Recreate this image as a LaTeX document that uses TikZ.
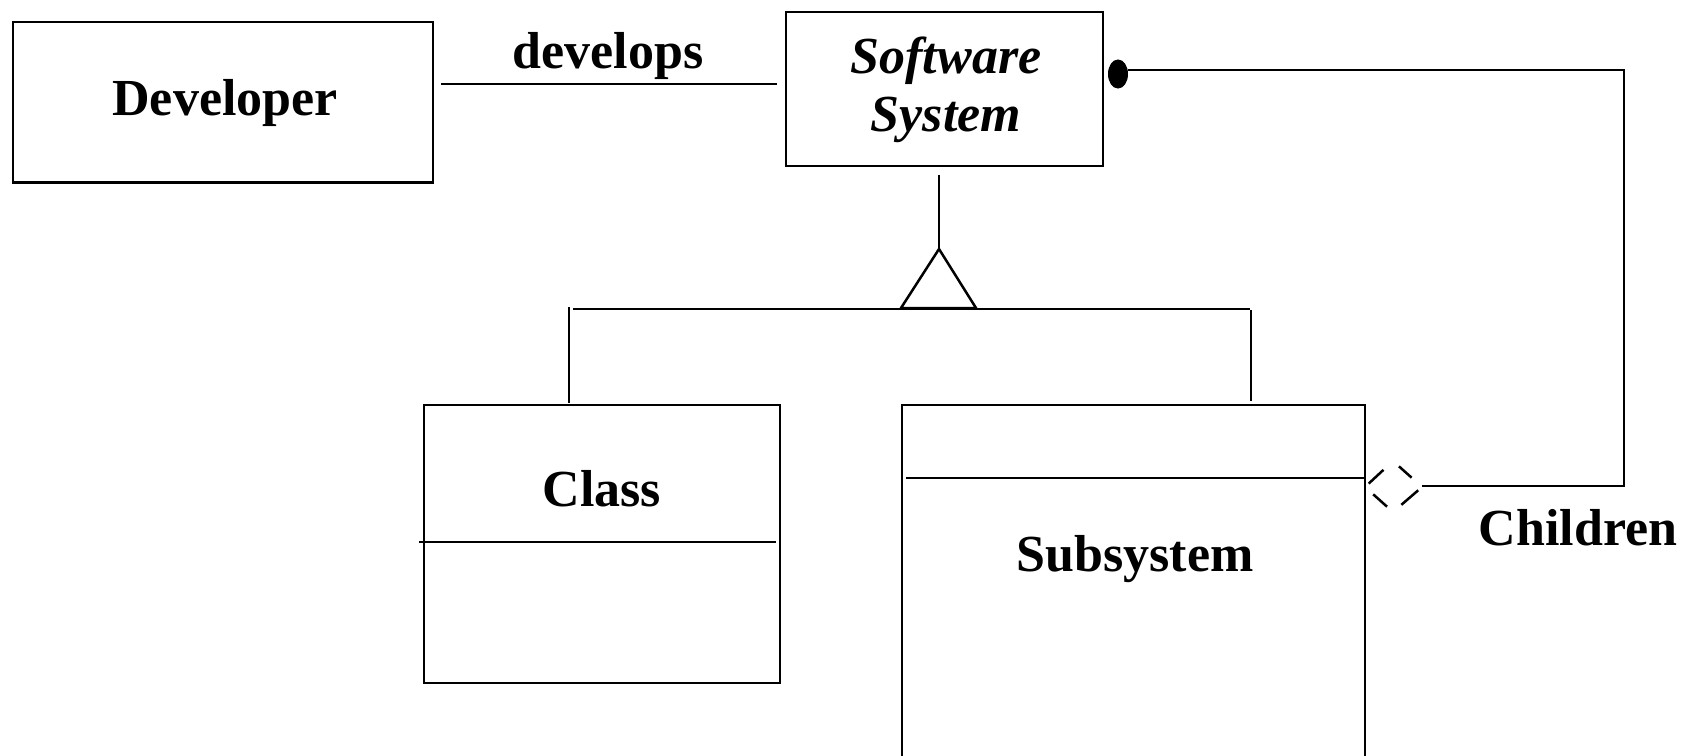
\documentclass[tikz,border=0pt]{standalone}
\usepackage{fontspec}
\setmainfont{Liberation Serif}
\usetikzlibrary{calc,shapes.geometric}
\begin{document}
\begin{tikzpicture}[x=1pt,y=-1pt,line width=2.5pt,
  box/.style={draw,line width=2.5pt,inner sep=0pt},
  lbl/.style={anchor=base,inner sep=0pt,font=\fontsize{52}{58}\selectfont\bfseries},
  ilbl/.style={anchor=base,inner sep=0pt,font=\fontsize{52}{58}\selectfont\bfseries\itshape}]
\clip (0,0) rectangle (1686,755);

% class boxes
\node[box,minimum width=420pt,minimum height=160.5pt] (dev) at (223,102) {};
\node[box,minimum width=317pt,minimum height=154pt] (sws) at (944.5,89) {};
\node[box,minimum width=356pt,minimum height=278pt] (cls) at (602,544) {};
\node[box,minimum width=463pt,minimum height=400pt] (sub) at (1133.5,605) {};

% class names
\node[lbl] (devname) at (225,115) {Developer};
\node[ilbl] (swsname1) at (946,73.5) {Software};
\node[ilbl] (swsname2) at (946,131.5) {System};
\node[lbl] (clsname) at (602,506) {Class};
\node[lbl] (subname) at (1135,571) {Subsystem};

% compartment dividers
\draw ($(cls.west)+(-4,-2)$) -- ($(cls.east)+(-5,-2)$);
\coordinate (sdl) at (906,478);
\draw (sdl) -- (sub.east |- sdl);

% association
\coordinate (d1) at ($(dev.east)+(7,-18)$);
\coordinate (d2) at ($(sws.west)+(-8,-5)$);
\draw (d1) -- (d2);
\node[lbl] (develops) at (608,68) {develops};

% generalization
\coordinate (gtop) at ($(sws.south)+(-5.5,8)$);
\coordinate (gapex) at (939,249);
\coordinate (gbl) at (901,308);
\coordinate (gbr) at (976,308);
\draw (gtop) -- (gapex);
\draw[line join=miter] (gapex) -- (gbr) -- (gbl) -- cycle;
\coordinate (hl) at (573,309);
\coordinate (hr) at (1250,309);
\draw (hl) -- (hr);
\coordinate (cl) at (569,307);
\coordinate (cr) at (1251,310);
\draw (cl) -- ($(cls.north -| cl)+(0,-1)$);
\draw (cr) -- ($(sub.north -| cr)+(0,-3)$);

% aggregation: filled end at the whole, dashed diamond at the part
\node[draw,fill=black,ellipse,minimum width=19pt,minimum height=28pt,inner sep=0pt,line width=1pt] (dot) at (1118,74) {};
\coordinate (c1) at (1624,70);
\coordinate (c2) at (1624,486);
\coordinate (c3) at (1422,486);
\draw[line join=miter] (dot.east |- c1) -- (c1) -- (c2) -- (c3);
\coordinate (dl) at (1365,487);
\coordinate (dt) at (1393,461);
\coordinate (dr) at (1422,487);
\coordinate (db) at (1393,512);
\draw[shorten <=5pt,shorten >=13pt] (dl) -- (dt);
\draw[shorten <=8pt,shorten >=14pt] (dt) -- (dr);
\draw[shorten <=5pt,shorten >=11pt] (dr) -- (db);
\draw[shorten <=8pt,shorten >=11pt] (db) -- (dl);
\node[lbl] (children) at (1578,545) {Children};
\end{tikzpicture}
\end{document}
